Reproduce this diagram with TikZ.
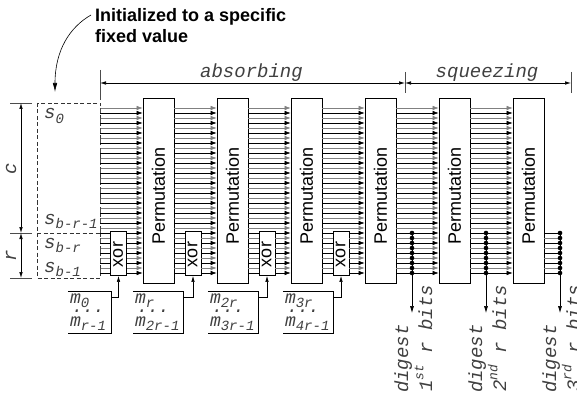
\documentclass[tikz,border=0pt]{standalone}
\usepackage{fontspec}
\setmainfont{Liberation Sans}
\setsansfont{Liberation Sans}
\setmonofont{Liberation Mono}
\usetikzlibrary{arrows.meta,calc}
\newcommand\tsub[2]{#1\raisebox{-0.22em}{\fontsize{14}{14}\selectfont #2}}
\newcommand\tsup[2]{#1\raisebox{0.45em}{\fontsize{13}{13}\selectfont #2}}
\tikzset{
  box/.style={draw, line width=0.8pt, inner sep=0pt},
  permbox/.style={box, minimum width=31pt, minimum height=185pt},
  xorbox/.style={box, minimum width=16pt, minimum height=44pt},
  rottxt/.style={rotate=90, font=\fontsize{18}{18}\selectfont\sffamily, inner sep=0pt},
  ttlab/.style={font=\fontsize{19}{19}\selectfont\ttfamily\itshape, text=black!75, inner sep=0pt},
  mlab/.style={font=\fontsize{18}{18}\selectfont\ttfamily\itshape, text=black!75, inner sep=0pt},
  bit/.style={line width=0.6pt},
  bittip/.style={-{Latex[length=6pt,width=4.5pt]}},
  dim/.style={line width=0.6pt, {Latex[length=6pt,width=3.5pt]}-{Latex[length=6pt,width=3.5pt]}},
  dimtick/.style={line width=0.6pt, black!70},
  mframe/.style={line width=0.8pt},
  conn/.style={line width=0.6pt, -{Latex[length=6pt,width=3.5pt]}},
}
\begin{document}
\begin{tikzpicture}[x=1pt,y=-1pt]
\useasboundingbox (0,0) rectangle (577,395);
\clip (0,0) rectangle (577,395);

% title and curved arrow
\node[font=\fontsize{18}{18}\selectfont\sffamily\bfseries, anchor=base west, inner sep=0pt] (title1) at (95,22) {Initialized to a specific};
\node[font=\fontsize{18}{18}\selectfont\sffamily\bfseries, anchor=base west, inner sep=0pt] (title2) at (95,43) {fixed value};
\coordinate (arrS) at (91,15);
\coordinate (arrE) at (55,92);
\draw[line width=0.6pt, -{Latex[length=9pt,width=4.5pt]}] (arrS) .. controls (70,27) and (55,50) .. (arrE);

% absorbing / squeezing dimensions
\coordinate (a0) at (100,83);
\coordinate (a1) at (405,83);
\coordinate (a2) at (571,83);
\draw[dimtick] (100,70) -- (100,100);
\draw[dimtick] (405,72) -- (405,93);
\draw[dimtick] (571,72) -- (571,93);
\draw[dim] (a0) -- (a1);
\draw[dim] (a1) -- (a2);
\node[ttlab, anchor=base] (abs) at (251.5,78) {absorbing};
\node[ttlab, anchor=base] (squ) at (487,78) {squeezing};

% state box
\draw[dashed, dash pattern=on 4pt off 2.5pt, line width=0.6pt, black!80] (37,103) rectangle (100,278);
\draw[dashed, dash pattern=on 4pt off 2.5pt, line width=0.6pt, black!80] (37,233) -- (100,233);
\node[ttlab, anchor=base west] (s0) at (44,119) {\tsub{s}{0}};
\node[ttlab, anchor=base west] (s1) at (44,224) {\tsub{s}{b-r-1}};
\node[ttlab, anchor=base west] (s2) at (44,248) {\tsub{s}{b-r}};
\node[ttlab, anchor=base west] (s3) at (44,272) {\tsub{s}{b-1}};

% c / r dimensions
\draw[dimtick] (10,103) -- (32,103);
\draw[dimtick] (10,233) -- (32,233);
\draw[dimtick] (10,278) -- (32,278);
\coordinate (ct) at (21,103);
\coordinate (cm) at (21,233);
\coordinate (cb) at (21,278);
\draw[dim] (ct) -- (cm);
\draw[dim] (cm) -- (cb);
\node[ttlab, rotate=90] (clab) at (11,169) {c};
\node[ttlab, rotate=90] (rlab) at (11,256) {r};

% permutation boxes
\foreach \i/\cx in {1/158.5,2/232.5,3/306.5,4/380.5,5/454.5,6/528.5}{
  \node[permbox] (p\i) at (\cx,190.5) {};
  \node[rottxt] (p\i t) at (\cx,196) {Permutation};
}
% xor boxes
\foreach \i/\cx in {1/118.5,2/193,3/267,4/341}{
  \node[xorbox] (x\i) at (\cx,253.5) {};
  \node[rottxt] (x\i t) at (\cx-0.5,254.5) {xor};
}

% bit lines
\foreach \k in {0,...,33}{
  \pgfmathsetmacro\yy{108+5*\k}
  \pgfmathtruncatemacro\kodd{mod(\k,2)}
  \ifnum\kodd=0 \def\bc{gray}\else\def\bc{black}\fi
  \ifnum\k<25
    \draw[bit,\bc,bittip] (100,\yy) -- (p1.west |- 0,\yy);
    \foreach \a/\b in {p1/p2,p2/p3,p3/p4}
      \draw[bit,\bc,bittip] (\a.east |- 0,\yy) -- (\b.west |- 0,\yy);
  \else
    \draw[bit,\bc] (100,\yy) -- (x1.west |- 0,\yy);
    \draw[bit,\bc,bittip] (x1.east |- 0,\yy) -- (p1.west |- 0,\yy);
    \foreach \a/\x/\b in {p1/x2/p2,p2/x3/p3,p3/x4/p4}{
      \draw[bit,\bc] (\a.east |- 0,\yy) -- (\x.west |- 0,\yy);
      \draw[bit,\bc,bittip] (\x.east |- 0,\yy) -- (\b.west |- 0,\yy);
    }
    \draw[bit,\bc] (p6.east |- 0,\yy) -- (560,\yy);
  \fi
  \foreach \a/\b in {p4/p5,p5/p6}
    \draw[bit,\bc,bittip] (\a.east |- 0,\yy) -- (\b.west |- 0,\yy);
}
% small brackets at the left ends
\foreach \k in {0,2,...,32}{
  \pgfmathsetmacro\yy{108+5*\k}
  \draw[bit,black!70] (100.5,\yy) -- (100.5,\yy+5);
}

% digest outputs
\foreach \i/\dx/\nth in {1/412/st,2/486/nd,3/560/rd}{
  \coordinate (dt\i) at (\dx,233);
  \coordinate (de\i) at (\dx,313);
  \draw[line width=0.6pt, -{Latex[length=7pt,width=4pt]}] (dt\i) -- (de\i);
  \foreach \k in {25,...,33}{
    \fill (\dx,108+5*\k) circle (2.3pt);
  }
  \node[ttlab, rotate=90, anchor=base west] (dg\i) at (\dx-4,393) {digest};
  \node[ttlab, rotate=90, anchor=base west] (rb\i) at (\dx+20,392) {\tsup{\i}{\nth} r bits};
}

% message blocks
\foreach \i/\cx/\w/\ta/\tb in {1/89.5/43/0/r-1,2/158/50/r/2r-1,3/233/50/2r/3r-1,4/308/50/3r/4r-1}{
  \node[minimum width=\w pt, minimum height=41pt, inner sep=0pt] (m\i) at (\cx,312.5) {};
  \draw[mframe] (m\i.north west) -- (m\i.north east) -- (m\i.south east) -- (m\i.south west);
  \node[mlab, anchor=base west, text height=7pt, text depth=3pt] (m\i a) at ($(m\i.north west)+(2,11.5)$) {\tsub{m}{\ta}};
  \node[mlab, anchor=base west, text height=2pt, text depth=0pt] (m\i b) at ($(m\i.north west)+(4,20.5)$) {...};
  \node[mlab, anchor=base west, text height=7pt, text depth=3pt] (m\i c) at ($(m\i.north west)+(2,35)$) {\tsub{m}{\tb}};
  \draw[conn] ($(m\i.north east)+(0,5)$) -| (x\i.south);
}
\end{tikzpicture}
\end{document}
